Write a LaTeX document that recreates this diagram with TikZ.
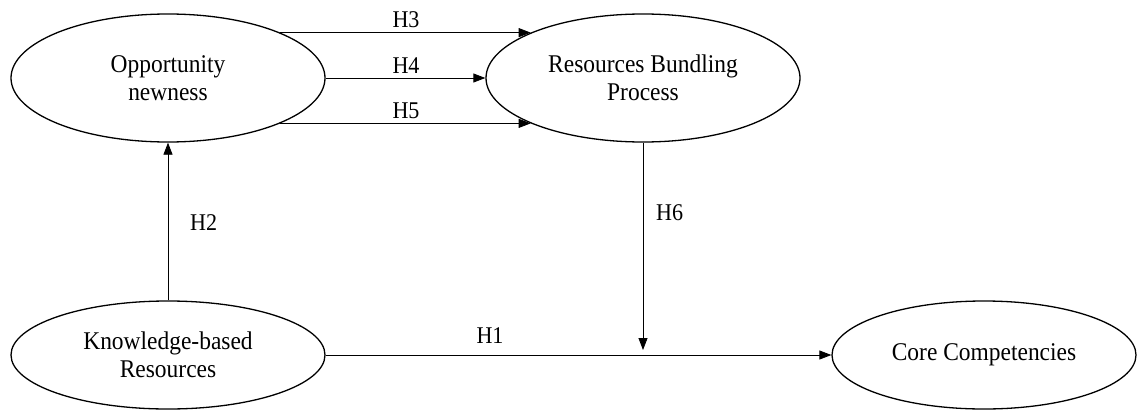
\documentclass[tikz,border=0pt]{standalone}
\usepackage{fontspec}
\setmainfont{Liberation Serif}
\newfontfamily\narrowserif[FakeStretch=0.92]{Liberation Serif}
\usetikzlibrary{arrows.meta,shapes.geometric}
\begin{document}
\begin{tikzpicture}[x=1pt,y=-1pt,
  construct/.style={draw,ellipse,line width=1.3pt,inner sep=0pt,align=center,
    font=\narrowserif\fontsize{25.5}{28}\selectfont},
  big/.style={minimum width=314pt,minimum height=128pt},
  small/.style={minimum width=312pt,minimum height=108pt},
  arr/.style={line width=0.8pt,-{Triangle[length=12pt,width=9pt]}},
  hyp/.style={font=\narrowserif\fontsize{24}{26}\selectfont,inner sep=0pt}]
\useasboundingbox (0,0) rectangle (1139,412);
\node[construct,big] (A) at (168,78) {Opportunity\\newness};
\node[construct,big] (B) at (643,78) {Resources Bundling\\Process};
\node[construct,small,minimum width=314pt] (C) at (168,355) {Knowledge-based\\Resources};
\node[construct,small,minimum width=304pt] (D) at (984,355) {Core Competencies};
\coordinate (H6end) at (643,350);
% connectors
\draw[arr] (A.22) -- (A.22 -| B.158);
\draw[arr] (A.east) -- (B.west);
\draw[arr] (A.-22) -- (A.-22 -| B.-158);
\draw[arr] (C.north) -- (A.south);
\draw[arr] (B.south) -- (H6end);
\draw[arr] (C.east) -- (D.west);
% labels
\node[hyp,anchor=base] (h3) at (406,28) {H3};
\node[hyp,anchor=base] (h4) at (406,73) {H4};
\node[hyp,anchor=base] (h5) at (406,118) {H5};
\node[hyp,anchor=base west] (h2) at (190,230) {H2};
\node[hyp,anchor=base west] (h6) at (656,220) {H6};
\node[hyp,anchor=base] (h1) at (490,343) {H1};
\end{tikzpicture}
\end{document}
